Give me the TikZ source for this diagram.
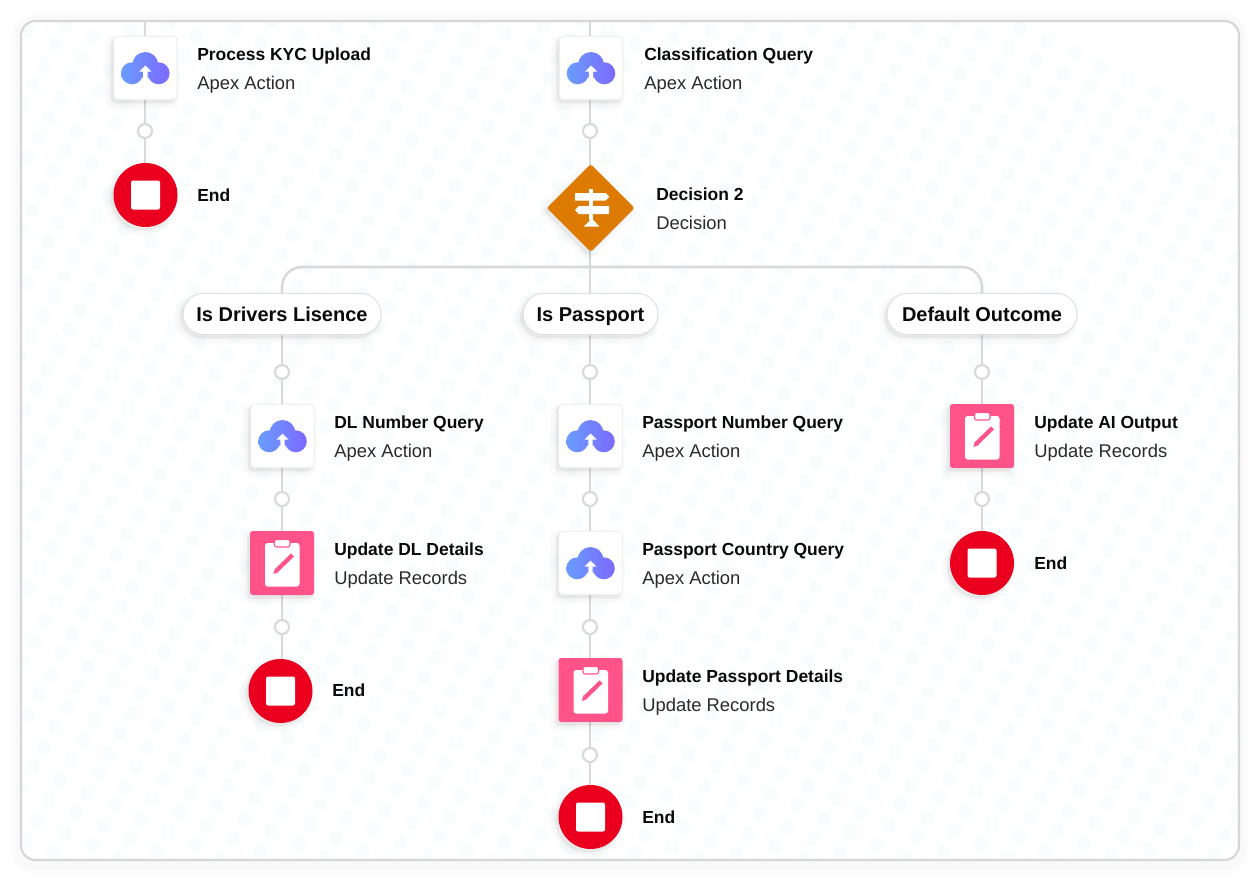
\documentclass[tikz,border=0pt]{standalone}
\usepackage{fontspec}
\setmainfont{Liberation Sans}
\usetikzlibrary{shapes.geometric,shadows,calc}
\pgfdeclarelayer{wires}
\pgfsetlayers{wires,main}
\definecolor{linegray}{HTML}{D9D9D9}
\definecolor{framegray}{HTML}{D6D6D6}
\definecolor{endred}{HTML}{EA001E}
\definecolor{decorange}{HTML}{DD7A01}
\definecolor{recpink}{HTML}{FF538A}
\definecolor{cloudA}{HTML}{6A9CFF}
\definecolor{cloudB}{HTML}{7C69FF}
\definecolor{dotA}{HTML}{FDFEFE}
\definecolor{dotB}{HTML}{F9FCFD}
\definecolor{inkdark}{HTML}{0A0A0A}
\definecolor{inksub}{HTML}{2A2A2A}
\tikzset{
  softshade/.style={
    general shadow={shadow xshift=-2.5pt,shadow yshift=-3pt,fill=black,draw=black,line width=9pt,opacity=.007},
    general shadow={shadow xshift=-2.5pt,shadow yshift=-3pt,fill=black,draw=black,line width=6.5pt,opacity=.01},
    general shadow={shadow xshift=-2pt,shadow yshift=-2.5pt,fill=black,draw=black,line width=4pt,opacity=.013},
    general shadow={shadow xshift=-1.5pt,shadow yshift=-2pt,fill=black,draw=black,line width=2pt,opacity=.016}},
  conn/.style={draw=linegray,line width=1.9pt},
  apexbox/.style={rectangle,rounded corners=3pt,minimum size=47.5pt,inner sep=0pt,fill=white,draw=black!8,line width=.6pt,softshade},
  recbox/.style={rectangle,rounded corners=2pt,minimum size=48pt,inner sep=0pt,fill=recpink,softshade},
  endbox/.style={circle,minimum size=48pt,inner sep=0pt,fill=endred,softshade},
  decbox/.style={diamond,aspect=1,minimum size=66pt,inner sep=0pt,fill=decorange,rounded corners=2pt,softshade},
  addspot/.style={circle,minimum size=10.5pt,inner sep=0pt,fill=white,draw=linegray,line width=1.6pt},
  outcome/.style={rectangle,rounded corners=15.5pt,minimum height=31pt,inner sep=0pt,text height=14pt,text depth=3.2pt,fill=white,draw=black!12,line width=.7pt,softshade,font=\fontsize{15pt}{17pt}\selectfont\bfseries,text=inkdark},
  titletext/.style={anchor=west,inner sep=0pt,text height=10pt,text depth=3pt,yshift=-1.3pt,font=\fontsize{13.1pt}{15pt}\selectfont\bfseries,text=inkdark},
  subtext/.style={anchor=west,inner sep=0pt,text height=10pt,text depth=3pt,yshift=-1.3pt,font=\fontsize{13.8pt}{16pt}\selectfont,text=inksub},
}
\newcommand{\cloudicon}[1]{%
  \begin{scope}[shift={(#1)}]
    \shade[left color=cloudA,right color=cloudB,shading angle=90]
      (-13.3,5.3) circle[radius=11] (13.3,5.3) circle[radius=11] (0,-3) circle[radius=13];
    \fill[white] (0,-2.5) -- (6,3.5) -- (2.2,3.5) -- (2.2,13) -- (-2.2,13) -- (-2.2,3.5) -- (-6,3.5) -- cycle;
    \fill[white] (-1,8) rectangle (1,16.5);
  \end{scope}}
\newcommand{\clipicon}[1]{%
  \begin{scope}[shift={(#1)}]
    \fill[white,rounded corners=2pt] (-17,-20) rectangle (17.5,23.5);
    \fill[white,draw=recpink,line width=.8pt,rounded corners=1.5pt] (-7.5,-23.5) rectangle (8,-16);
    \draw[recpink,line width=3.2pt] (-5,7) -- (10.5,-8);
    \fill[recpink] (-8.5,11) -- (-7,5) -- (-3,9) -- cycle;
  \end{scope}}
\newcommand{\signicon}[1]{%
  \begin{scope}[shift={(#1)}]
    \fill[white] (-1.5,-19) rectangle (2.5,12);
    \fill[white] (-15.7,-15) -- (15,-15) -- (18.7,-11.2) -- (15,-7.5) -- (-15.7,-7.5) -- cycle;
    \fill[white] (18.3,-1.8) -- (-12,-1.8) -- (-15.7,2) -- (-12,6) -- (18.3,6) -- cycle;
    \fill[white] (1,10.5) -- (8.7,18.5) -- (-6.7,18.5) -- cycle;
  \end{scope}}
\newcommand{\stopicon}[1]{\fill[white,rounded corners=1.5pt] ($(#1)+(-14.5,-14.5)$) rectangle ($(#1)+(14.5,14.5)$);}
\begin{document}
\begin{tikzpicture}[x=.75pt,y=-.75pt]
\useasboundingbox (0,0) rectangle (1260,882);
\begin{pgfonlayer}{wires}
\fill[white] (0,0) rectangle (1260,882);
% outer halo and panel
\fill[black,opacity=.012,rounded corners=18pt] (11,13) rectangle (1249,875);
\fill[black,opacity=.012,rounded corners=15pt] (15,16) rectangle (1245,870);
\fill[white,rounded corners=11pt] (21,21) rectangle (1239,860);
% dot texture
\begin{scope}
  \clip[rounded corners=11pt] (21,21) rectangle (1239,860);
  \foreach \i in {-25,...,50}{
    \foreach \j in {-50,...,50}{
      \pgfmathtruncatemacro{\px}{38+27*\i+11*\j}
      \pgfmathtruncatemacro{\py}{820+13*\i-20*\j}
      \ifnum\px>5 \ifnum\px<1255 \ifnum\py>5 \ifnum\py<876
        \fill[dotA] (\px,\py) circle[radius=10];
        \fill[dotB] (\px,\py) circle[radius=6.5];
      \fi\fi\fi\fi
    }
  }
\end{scope}
\draw[framegray,line width=1.6pt,rounded corners=11pt] (21,21) rectangle (1239,860);
\end{pgfonlayer}

% column A
\coordinate (topA) at (145,21);
\node[apexbox] (kyc) at (145.3,68) {};
\node[addspot] (a1) at (145,131) {};
\node[endbox] (endA) at (145.5,195) {};
\node[titletext] (kycT) at (197,54) {Process KYC Upload};
\node[subtext] (kycS) at (197,83) {Apex Action};
\node[titletext] (endAT) at (197,195) {End};

% column B top
\coordinate (topB) at (590,21);
\node[apexbox] (cls) at (591,68) {};
\node[addspot] (b1) at (590,131) {};
\node[decbox] (dec) at (590.7,208) {};
\node[titletext] (clsT) at (644,54) {Classification Query};
\node[subtext] (clsS) at (644,83) {Apex Action};
\node[titletext] (decT) at (656,194) {Decision 2};
\node[subtext] (decS) at (656,223) {Decision};
\coordinate (bus) at (590,267);

% outcomes
\node[outcome,minimum width=148.5pt] (drv) at (282,314) {Is Drivers Lisence};
\node[outcome,minimum width=101pt] (pas) at (590.5,314) {Is Passport};
\node[outcome,minimum width=142.5pt] (dfl) at (982,314) {Default Outcome};
\node[addspot] (c0) at (282,372) {};
\node[addspot] (d0) at (590,372) {};
\node[addspot] (e0) at (982,372) {};

% column C
\node[apexbox] (dln) at (282.5,436) {};
\node[addspot] (c1) at (282,499) {};
\node[recbox] (dlu) at (282,563) {};
\node[addspot] (c2) at (282,627) {};
\node[endbox] (endC) at (280.5,691) {};
\node[titletext] (dlnT) at (334,422) {DL Number Query};
\node[subtext] (dlnS) at (334,451) {Apex Action};
\node[titletext] (dluT) at (334,549) {Update DL Details};
\node[subtext] (dluS) at (334,578) {Update Records};
\node[titletext] (endCT) at (332,690) {End};

% column D
\node[apexbox] (pnq) at (590.5,436) {};
\node[addspot] (d1) at (590,499) {};
\node[apexbox] (pcq) at (590.5,563) {};
\node[addspot] (d2) at (590,627) {};
\node[recbox] (pud) at (590.5,690) {};
\node[addspot] (d3) at (590,755) {};
\node[endbox] (endD) at (590.5,817) {};
\node[titletext] (pnqT) at (642,422) {Passport Number Query};
\node[subtext] (pnqS) at (642,451) {Apex Action};
\node[titletext] (pcqT) at (642,549) {Passport Country Query};
\node[subtext] (pcqS) at (642,578) {Apex Action};
\node[titletext] (pudT) at (642,676) {Update Passport Details};
\node[subtext] (pudS) at (642,705) {Update Records};
\node[titletext] (endDT) at (642,817) {End};

% column E
\node[recbox] (aio) at (982,436) {};
\node[addspot] (e1) at (982,499) {};
\node[endbox] (endE) at (982,563) {};
\node[titletext] (aioT) at (1034,422) {Update AI Output};
\node[subtext] (aioS) at (1034,451) {Update Records};
\node[titletext] (endET) at (1034,563) {End};

% icons
\cloudicon{kyc} \cloudicon{cls} \cloudicon{dln} \cloudicon{pnq} \cloudicon{pcq}
\clipicon{dlu} \clipicon{pud} \clipicon{aio}
\signicon{dec}
\stopicon{endA} \stopicon{endC} \stopicon{endD} \stopicon{endE}

% connectors
\begin{pgfonlayer}{wires}
  \draw[conn] (topA) -- (topA |- kyc.north);
  \draw[conn] (a1 |- kyc) -- (a1) -- (a1 |- endA);
  \draw[conn] (topB) -- (topB |- cls.north);
  \draw[conn] (b1 |- cls) -- (b1) -- (b1 |- dec);
  \draw[conn] (b1 |- dec) -- (pas.north -| b1);
  \draw[conn,rounded corners=15pt] (drv.north) |- (bus) -| (dfl.north);
  \draw[conn] (c0 |- drv) -- (c0) -- (c0 |- dln);
  \draw[conn] (c1 |- dln) -- (c1) -- (c1 |- dlu) -- (c2) -- (c2 |- endC);
  \draw[conn] (d0 |- pas) -- (d0) -- (d0 |- pnq) -- (d1) -- (d1 |- pcq) -- (d2) -- (d2 |- pud) -- (d3) -- (d3 |- endD);
  \draw[conn] (dfl) -- (e0) -- (aio) -- (e1) -- (endE);
\end{pgfonlayer}
\end{tikzpicture}
\end{document}
